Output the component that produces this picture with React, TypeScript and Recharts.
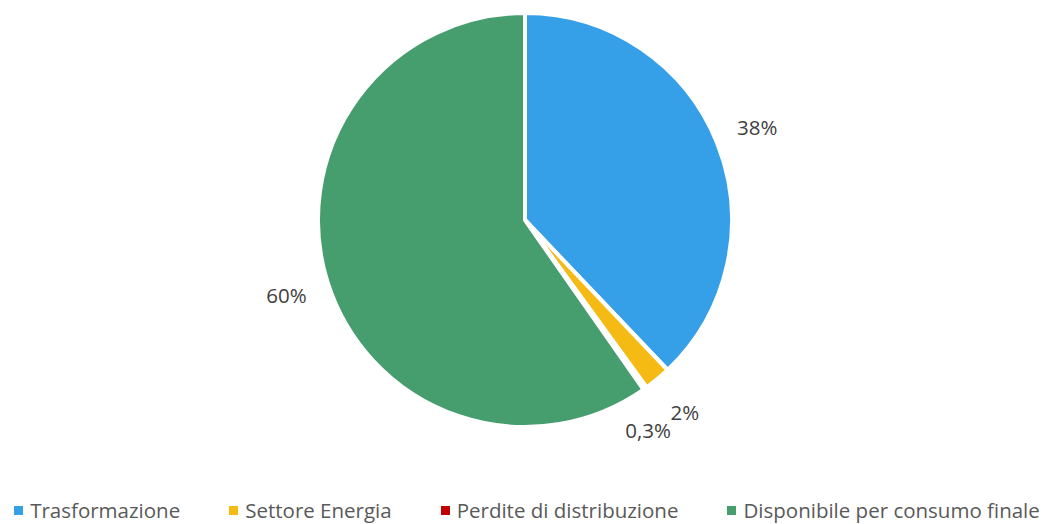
import { PieChart, Pie, Cell, Legend } from "recharts";

const names = ["Trasformazione", "Settore Energia", "Perdite di distribuzione", "Disponibile per consumo finale"];
const values = [37.9, 2.1, 0.3, 59.7];
const labels = ["38%", "2%", "0,3%", "60%"];
const colors = ["#35A0E8", "#F5BA14", "#C00000", "#469E6E"];

const data = names.map((name, i) => ({ name, value: values[i], label: labels[i] }));

const RADIAN = Math.PI / 180;

function renderLabel(props: any) {
  const { cx, cy, midAngle, outerRadius, index } = props;
  const r = outerRadius + 43;
  let x = cx + r * Math.cos(-midAngle * RADIAN);
  let y = cy + r * Math.sin(-midAngle * RADIAN);
  // small slices sit close together, push the tiny one aside
  if (index === 2) {
    x -= 22;
    y += 6;
  }
  return (
    <text
      x={x}
      y={y}
      fill="#404040"
      fontSize={20.5}
      fontFamily="'Open Sans', sans-serif"
      textAnchor="middle"
      dominantBaseline="central"
    >
      {labels[index]}
    </text>
  );
}

function LegendContent() {
  return (
    <div
      style={{
        display: "flex",
        justifyContent: "center",
        gap: 49,
        fontFamily: "'Open Sans', sans-serif",
        fontSize: 20.5,
        lineHeight: "28px",
        color: "#595959",
        whiteSpace: "nowrap",
      }}
    >
      {names.map((n, i) => (
        <div key={n} style={{ display: "flex", alignItems: "center" }}>
          <span style={{ width: 9, height: 9, background: colors[i], marginRight: 7, display: "inline-block" }} />
          <span>{n}</span>
        </div>
      ))}
    </div>
  );
}

export default function App() {
  return (
    <div style={{ position: "absolute", left: 0, top: 0, width: 1054, height: 524, background: "#fff" }}>
      <PieChart width={1054} height={524} margin={{ top: 0, right: 0, bottom: 0, left: 0 }}>
        <Pie
          data={data}
          dataKey="value"
          cx={525}
          cy={220}
          outerRadius={207}
          startAngle={90}
          endAngle={-270}
          stroke="#fff"
          strokeWidth={4}
          label={renderLabel}
          labelLine={false}
          isAnimationActive={false}
        >
          {data.map((d, i) => (
            <Cell key={d.name} fill={colors[i]} />
          ))}
        </Pie>
        <Legend verticalAlign="bottom" content={<LegendContent />} wrapperStyle={{ bottom: 0, left: 0, width: 1054 }} />
      </PieChart>
    </div>
  );
}
